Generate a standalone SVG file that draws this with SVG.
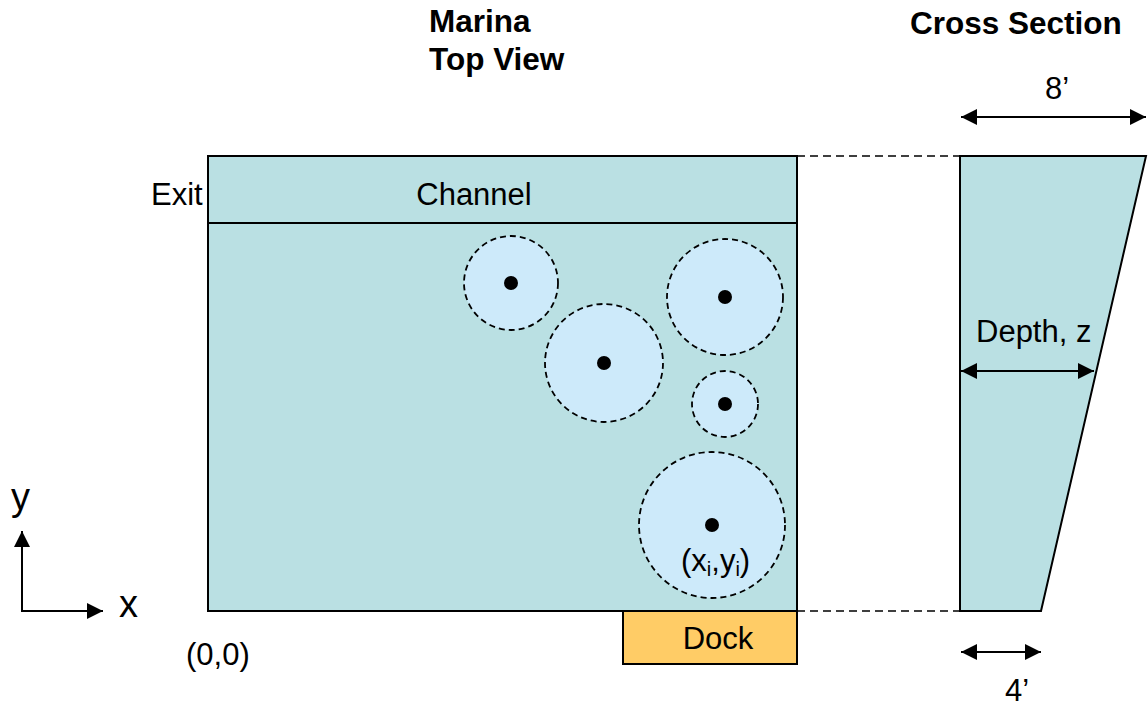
<svg xmlns="http://www.w3.org/2000/svg" width="1148" height="710" viewBox="0 0 1148 710">
<style>
text{font-family:"Liberation Sans",Arial,sans-serif;font-size:31px;fill:#000}
.b{font-weight:bold;font-size:31.5px}
.ax{font-size:38px}
.water{fill:#bae0e3;stroke:#000;stroke-width:2}
.zone{fill:#cdeafa;stroke:#000;stroke-width:1.8;stroke-dasharray:6,4}
.dot{fill:#000}
.ln{stroke:#000;stroke-width:2;fill:none}
.dash{stroke:#000;stroke-width:1.5;stroke-dasharray:8,5;fill:none}
</style>
<defs>
<marker id="ah" viewBox="0 0 10 10" refX="10" refY="5" markerWidth="8" markerHeight="8" markerUnits="strokeWidth" orient="auto-start-reverse">
<path d="M0,0 L10,5 L0,10 z" fill="#000"/>
</marker>
</defs>
<g id="titles">
<text class="b" x="429" y="32">Marina</text>
<text class="b" x="429" y="70">Top View</text>
<text class="b" x="910" y="34">Cross Section</text>
</g>
<g id="marina">
<rect class="water" x="208" y="156" width="589" height="455"/>
<line class="ln" x1="208" y1="223" x2="797" y2="223"/>
<text x="474" y="205" text-anchor="middle">Channel</text>
<text x="151" y="205">Exit</text>
</g>
<g id="dock">
<rect x="623" y="611" width="174" height="53" fill="#ffcc66" stroke="#000" stroke-width="2"/>
<text x="718" y="649" text-anchor="middle">Dock</text>
</g>
<g id="boat1"><circle class="zone" cx="511" cy="283" r="47"/><circle class="dot" cx="511" cy="283" r="7"/></g>
<g id="boat2"><circle class="zone" cx="604" cy="363" r="59"/><circle class="dot" cx="604" cy="363" r="7"/></g>
<g id="boat3"><circle class="zone" cx="725" cy="297" r="58"/><circle class="dot" cx="725" cy="297" r="7"/></g>
<g id="boat4"><circle class="zone" cx="725" cy="404" r="33"/><circle class="dot" cx="725" cy="404" r="7"/></g>
<g id="boat5"><circle class="zone" cx="712" cy="525" r="73"/><circle class="dot" cx="712" cy="525" r="7"/>
<text x="681" y="571">(x<tspan font-size="20" dy="5">i</tspan><tspan dy="-5">,y</tspan><tspan font-size="20" dy="5">i</tspan><tspan dy="-5">)</tspan></text>
</g>
<g id="cross-section">
<polygon class="water" points="960,156 1146,156 1041,611 960,611"/>
<text x="1057" y="99" text-anchor="middle">8’</text>
<text x="976" y="342">Depth, z</text>
<text x="1017" y="701" text-anchor="middle">4’</text>
</g>
<g id="axes">
<text class="ax" x="11" y="510">y</text>
<text class="ax" x="119" y="617">x</text>
<text x="186" y="665">(0,0)</text>
</g>
<g id="connectors">
<line class="dash" x1="797" y1="156" x2="960" y2="156"/>
<line class="dash" x1="797" y1="611" x2="960" y2="611"/>
<line class="ln" x1="961" y1="117" x2="1146" y2="117" marker-start="url(#ah)" marker-end="url(#ah)"/>
<line class="ln" x1="961" y1="371" x2="1094" y2="371" marker-start="url(#ah)" marker-end="url(#ah)"/>
<line class="ln" x1="961" y1="652" x2="1041" y2="652" marker-start="url(#ah)" marker-end="url(#ah)"/>
<polyline class="ln" points="22,531 22,611 103,611" marker-start="url(#ah)" marker-end="url(#ah)"/>
</g>
</svg>
